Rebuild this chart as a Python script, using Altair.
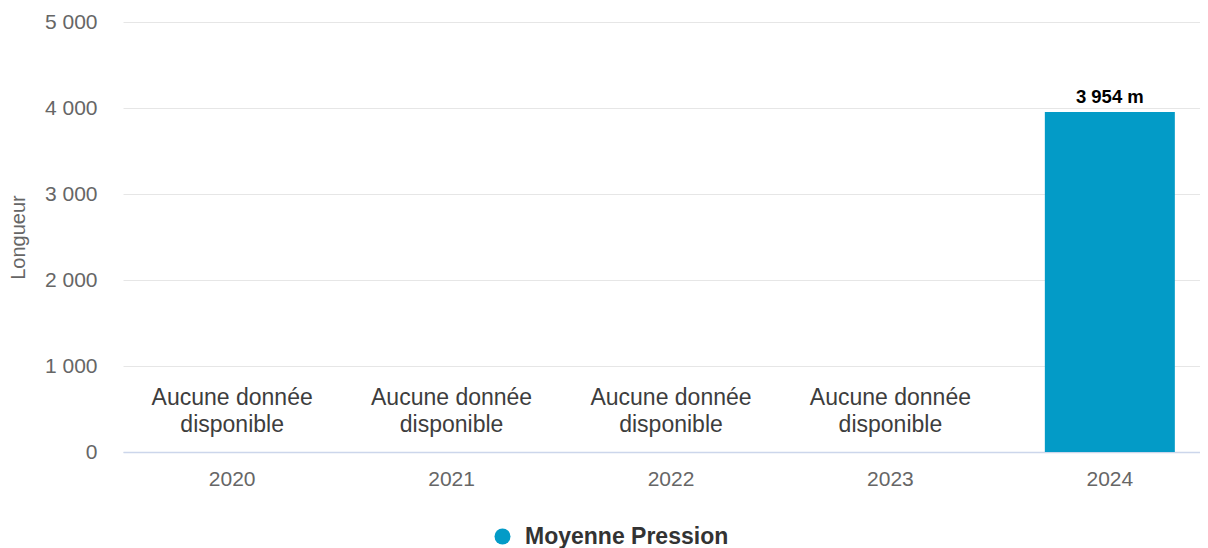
import altair as alt
import pandas as pd

years = ["2020", "2021", "2022", "2023", "2024"]
values = [None, None, None, None, 3954]
series_name = "Moyenne Pression"
bar_labels = ["", "", "", "", "3 954 m"]
no_data_text = "Aucune donnée\ndisponible"
no_data_years = ["2020", "2021", "2022", "2023"]
no_data_anchor = 625  # vertical placement of the note, in data units
y_ticks = [0, 1000, 2000, 3000, 4000, 5000]

df = pd.DataFrame({"year": years, "value": values, "label": bar_labels, "series": series_name})
nd = pd.DataFrame({"year": no_data_years, "note": no_data_text, "pos": no_data_anchor})

FONT = "Liberation Sans"
xscale = alt.Scale(domain=years, range=[0, 1096], paddingInner=0.405, paddingOuter=0.2)

bars = alt.Chart(df).mark_bar(size=130).encode(
    x=alt.X("year:N", scale=xscale, sort=years,
            axis=alt.Axis(title=None, labelAngle=0, ticks=False, labelPadding=16,
                          labelFontSize=21, labelColor="#666666", labelFont=FONT,
                          domainColor="#ccd6eb", domainWidth=1.5, grid=False)),
    y=alt.Y("value:Q", scale=alt.Scale(domain=[0, 5000], nice=False),
            axis=alt.Axis(values=y_ticks, title="Longueur", labelFontSize=21,
                          labelColor="#666666", labelFont=FONT, labelPadding=26,
                          labelExpr="replace(format(datum.value, ','), ',', ' ')",
                          ticks=False, domain=False, gridColor="#e6e6e6",
                          titleFont=FONT, titleFontSize=20, titleFontWeight="normal",
                          titleColor="#666666", titleAngle=-90, titleX=-105, titleY=215,
                          titleAlign="center", titleBaseline="middle")),
    color=alt.Color("series:N", scale=alt.Scale(range=["#039bc7"]),
                    legend=alt.Legend(title=None, orient="none", legendX=368, legendY=503,
                                      symbolType="circle", symbolSize=256,
                                      symbolStrokeWidth=0, labelFontSize=23,
                                      labelFontWeight="bold", labelColor="#333333",
                                      labelFont=FONT, padding=0, labelOffset=11,
                                      labelLimit=500)),
)

labels = alt.Chart(df).mark_text(dy=-5, baseline="bottom", fontSize=18.5, fontWeight="bold",
                                 font=FONT, color="#000000").encode(
    x=alt.X("year:N", scale=xscale, sort=years),
    y=alt.Y("value:Q"),
    text="label:N",
)

notes = alt.Chart(nd).mark_text(fontSize=23, font=FONT, color="#3d3d3d", lineBreak="\n",
                                baseline="middle", lineHeight=27).encode(
    x=alt.X("year:N", scale=xscale, sort=years),
    y=alt.Y("pos:Q"),
    text="note:N",
)

chart = alt.layer(bars, notes, labels).properties(
    width=1077, height=430,
    autosize=alt.AutoSizeParams(type="none"),
    padding={"left": 115, "top": 14, "right": 0, "bottom": 96},
).configure_view(stroke=None)

chart.save("out.html", embed_options={"renderer": "svg", "actions": False})
